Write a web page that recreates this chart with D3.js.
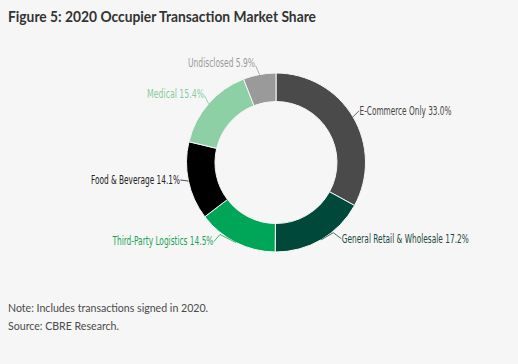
<!DOCTYPE html>
<html>
<head>
<meta charset="utf-8">
<script src="https://cdn.jsdelivr.net/npm/d3@7"></script>
<style>
  body { margin: 0; background: #f6f6f6; }
  svg { display: block; }
</style>
</head>
<body>
<div id="chart"></div>
<script>
// 1: DATA
const categories = ["E-Commerce Only", "General Retail & Wholesale", "Third-Party Logistics",
                    "Food & Beverage", "Medical", "Undisclosed"];
const shares = [33.0, 17.2, 14.5, 14.1, 15.4, 5.9];
const sliceColors = ["#4a4a4a", "#00483a", "#00a657", "#000000", "#8ed0a6", "#9a9a9a"];
const labelColors = ["#444444", "#1f4a3e", "#19a35a", "#222222", "#86cca0", "#9a9a9a"];

// label layout: offset of label anchor from slice edge, plus text width
const labelLayout = [
  { dx: 6, dy: -6, w: 92 },
  { dx: 20, dy: -1, w: 127 },
  { dx: -22, dy: -2, w: 101 },
  { dx: -8, dy: -1, w: 89 },
  { dx: -4, dy: -8, w: 57 },
  { dx: -4, dy: -9, w: 67 }
];

// 2: GLOBALS
const W = 518, H = 364;
const cx = 276, cy = 162.5;
const outerR = 89.5, innerR = 61;

const svg = d3.select("#chart").append("svg")
    .attr("width", W)
    .attr("height", H);

svg.append("rect").attr("width", W).attr("height", H).attr("fill", "#f6f6f6");

// 3: TITLE
svg.append("text")
    .text("Figure 5: 2020 Occupier Transaction Market Share")
    .attr("x", 8)
    .attr("y", 22)
    .attr("textLength", 308)
    .attr("lengthAdjust", "spacingAndGlyphs")
    .style("font-family", "Lato, 'Open Sans', sans-serif")
    .style("font-weight", "bold")
    .style("font-size", "16px")
    .style("fill", "#333");

// 4: DONUT
const data = categories.map((c, i) => ({ name: c, value: shares[i], i }));
const pie = d3.pie().sort(null).value(d => d.value);
const arcs = pie(data);
const arc = d3.arc().innerRadius(innerR).outerRadius(outerR);

const g = svg.append("g").attr("transform", `translate(${cx},${cy})`);

g.selectAll("path")
    .data(arcs)
    .enter()
    .append("path")
    .attr("d", arc)
    .style("fill", d => sliceColors[d.data.i])
    .style("stroke", "#f6f6f6")
    .style("stroke-width", 1);

// 5: LABELS + LEADERS
arcs.forEach(d => {
  const lay = labelLayout[d.data.i];
  const mid = (d.startAngle + d.endAngle) / 2;
  const p = [Math.sin(mid) * outerR, -Math.cos(mid) * outerR];
  const right = Math.sin(mid) > 0;
  const end = [p[0] + lay.dx, p[1] + lay.dy];

  let pts;
  if (d.data.i === 1) {
    pts = [p, [p[0] + 12, p[1] - 7], [end[0], end[1]]];
  } else if (d.data.i === 2) {
    pts = [p, [p[0] - 16, p[1] - 8], [end[0], end[1] + 1]];
  } else {
    pts = [p, end];
  }
  g.append("polyline")
      .attr("points", pts.map(q => q.join(",")).join(" "))
      .style("fill", "none")
      .style("stroke", labelColors[d.data.i])
      .style("stroke-width", 0.8);

  const tx = right ? end[0] + 0.5 : end[0] - 0.5;
  const ty = d.data.i === 5 ? end[1] - 3 : (d.data.i === 4 ? end[1] - 2 : end[1]);
  g.append("text")
      .text(`${d.data.name} ${d.data.value.toFixed(1)}%`)
      .attr("x", tx)
      .attr("y", ty)
      .attr("dy", "0.35em")
      .attr("text-anchor", right ? "start" : "end")
      .attr("textLength", lay.w)
      .attr("lengthAdjust", "spacingAndGlyphs")
      .style("font-family", "'DejaVu Sans Condensed', 'DejaVu Sans', sans-serif")
      .style("font-stretch", "condensed")
      .style("font-size", "11.5px")
      .style("fill", labelColors[d.data.i]);
});

// 6: FOOTNOTES
const notes = ["Note: Includes transactions signed in 2020.", "Source: CBRE Research."];
svg.selectAll(".note")
    .data(notes)
    .enter()
    .append("text")
    .attr("class", "note")
    .text(d => d)
    .attr("x", 8)
    .attr("y", (d, i) => 312 + i * 18)
    .style("font-family", "Lato, 'Open Sans', sans-serif")
    .style("font-size", "10.6px")
    .style("fill", "#4a4a4a");
</script>
</body>
</html>
